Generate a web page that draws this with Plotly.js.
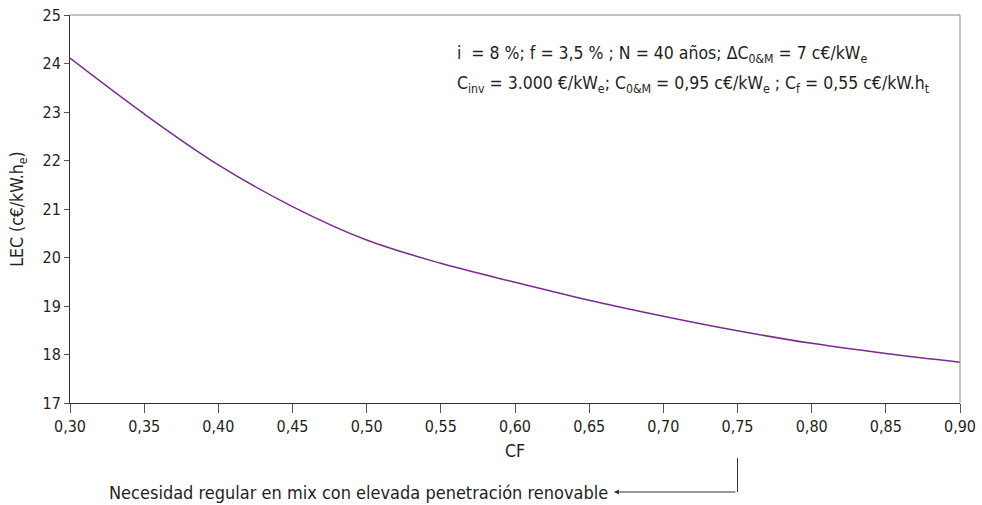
<!DOCTYPE html>
<html><head><meta charset="utf-8">
<script src="https://cdn.plot.ly/plotly-3.0.1.min.js"></script>
<style>body{margin:0;background:#fff}#c{width:982px;height:505px}</style>
</head><body><div id="c"></div>
<script>
const cf = [0.30, 0.35, 0.40, 0.45, 0.50, 0.55, 0.60, 0.65, 0.70, 0.75, 0.80, 0.85, 0.90];
const lec = [24.11, 22.96, 21.91, 21.05, 20.36, 19.88, 19.49, 19.12, 18.79, 18.49, 18.23, 18.02, 17.84];
const xTicks = [0.30, 0.35, 0.40, 0.45, 0.50, 0.55, 0.60, 0.65, 0.70, 0.75, 0.80, 0.85, 0.90];
const yTicks = [17, 18, 19, 20, 21, 22, 23, 24, 25];

const FONT = "'DejaVu Sans Condensed', 'Liberation Sans Narrow', Roboto, sans-serif";
const TXT = '#231f20';
const TS = 17.5;

Plotly.newPlot('c', [{
  x: cf, y: lec, type: 'scatter', mode: 'lines',
  line: {color: '#7b2a8f', width: 1.5, shape: 'spline', smoothing: 1},
  hoverinfo: 'skip'
}], {
  width: 982, height: 505,
  margin: {l: 70, r: 22, t: 15, b: 102},
  paper_bgcolor: '#fff', plot_bgcolor: '#fff',
  separators: ',.',
  showlegend: false,
  font: {family: FONT, size: 16, color: TXT},
  xaxis: {
    range: [0.30, 0.90], tickvals: xTicks, tickformat: '.2f',
    showgrid: false, zeroline: false,
    showline: true, linecolor: '#333', linewidth: 1,
    ticks: 'outside', ticklen: 9, tickcolor: '#555', tickwidth: 1,
    tickfont: {family: FONT, size: 16, color: TXT},
    title: {text: 'CF', font: {family: FONT, size: TS, color: TXT}, standoff: 9}
  },
  yaxis: {
    range: [17, 25], tickvals: yTicks,
    showgrid: false, zeroline: false,
    showline: true, linecolor: '#333', linewidth: 1,
    ticks: 'outside', ticklen: 5, tickcolor: '#555', tickwidth: 1,
    tickfont: {family: FONT, size: 16, color: TXT},
    title: {text: 'LEC (c€/kW.h<sub>e</sub>)', font: {family: FONT, size: TS, color: TXT}, standoff: 14}
  },
  shapes: [
    {type: 'line', xref: 'paper', yref: 'paper', x0: 0, x1: 1, y0: 1, y1: 1, line: {color: '#888', width: 1}},
    {type: 'line', xref: 'paper', yref: 'paper', x0: 1, x1: 1, y0: 0, y1: 1, line: {color: '#888', width: 1}},
    {type: 'line', xref: 'x', yref: 'paper', x0: 0.75, x1: 0.75, y0: -0.1418, y1: -0.2294, line: {color: '#333', width: 1}}
  ],
  annotations: [
    {xref: 'paper', yref: 'paper', x: 0.4326, y: 0.897, xanchor: 'left', yanchor: 'middle', showarrow: false,
     text: 'i  = 8 %; f = 3,5 % ; N = 40 años; ΔC<sub>0&M</sub> = 7 c€/kW<sub>e</sub>', font: {family: FONT, size: TS, color: TXT}},
    {xref: 'paper', yref: 'paper', x: 0.4326, y: 0.822, xanchor: 'left', yanchor: 'middle', showarrow: false,
     text: 'C<sub>inv</sub> = 3.000 €/kW<sub>e</sub>; C<sub>0&M</sub> = 0,95 c€/kW<sub>e</sub> ; C<sub>f</sub> = 0,55 c€/kW.h<sub>t</sub>', font: {family: FONT, size: TS, color: TXT}},
    {xref: 'x', yref: 'paper', x: 0.664, y: -0.2294, xanchor: 'right', yanchor: 'middle', showarrow: false,
     text: 'Necesidad regular en mix con elevada penetración renovable', font: {family: FONT, size: TS + 0.5, color: TXT}},
    {xref: 'x', yref: 'paper', x: 0.6667, y: -0.2294, axref: 'pixel', ayref: 'pixel', ax: 123, ay: 0,
     showarrow: true, arrowhead: 2, arrowsize: 1, arrowwidth: 1, arrowcolor: '#333', text: ''}
  ]
}, {displayModeBar: false});
</script></body></html>
